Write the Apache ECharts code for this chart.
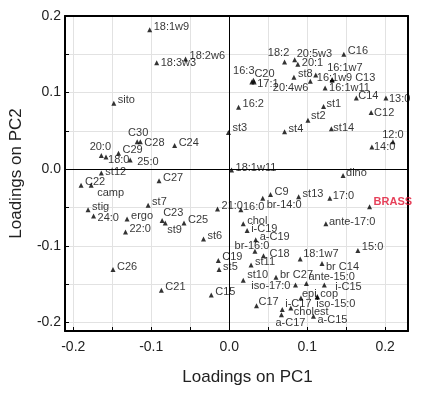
<!DOCTYPE html>
<html>
<head>
<meta charset="utf-8">
<script src="https://cdn.jsdelivr.net/npm/echarts/dist/echarts.min.js"></script>
<style>
  html, body { margin: 0; padding: 0; background: #fff; }
  #chart { width: 432px; height: 400px; }
</style>
</head>
<body>
<div id="chart"></div>
<script>
// variable names
var names = [
    '18:1w9', '18:2w6', '18:3w3', 'sito', 'C30', 'C28', 'C24', '20:0', '18:0', 'C29',
    '25:0', 'st12', 'C22', 'camp', 'C27', 'st7', 'stig', '24:0', 'ergo', 'C23',
    'st9', 'C25', '22:0', 'st6', 'C26', 'C19', 'st5', 'C21', 'C15', '21:0',
    '18:1w11', 'dino', 'C9', 'st13', '17:0', 'BRASS', '16:0', 'br-14:0', 'chol', 'i-C19',
    'a-C19', 'br-16:0', 'C18', 'st11', '18:1w7', 'br C14', '15:0', 'ante-17:0', 'st10', 'br C27',
    'iso-17:0', 'ante-15:0', 'i-C15', 'epi', 'cop', 'iso-15:0', 'C17', 'i-C17', 'cholest', 'a-C17',
    'a-C15', '18:2', '20:5w3', '20:1', 'C16', 'st8', '16:1w9', '16:1w7', 'C13', '20:4w6',
    '16:1w11', '16:3', 'C20', '17:1', '16:2', 'st3', 'st4', 'C14', '13:0', 'st1',
    'C12', 'st2', 'st14', '12:0', '14:0'
];
// loadings on PC1
var pc1 = [
    -0.102, -0.056, -0.093, -0.148, -0.118, -0.114, -0.070, -0.164, -0.158, -0.142,
    -0.127, -0.164, -0.190, -0.177, -0.090, -0.104, -0.181, -0.174, -0.131, -0.086,
    -0.082, -0.058, -0.133, -0.033, -0.149, -0.014, -0.013, -0.087, -0.023, -0.015,
    0.003, 0.146, 0.053, 0.089, 0.129, 0.180, 0.015, 0.043, 0.018, 0.023,
    0.034, 0.033, 0.044, 0.028, 0.091, 0.119, 0.165, 0.124, 0.018, 0.060,
    0.085, 0.099, 0.122, 0.092, 0.113, 0.113, 0.035, 0.068, 0.079, 0.067,
    0.108, 0.071, 0.084, 0.088, 0.147, 0.083, 0.111, 0.132, 0.132, 0.104,
    0.123, 0.029, 0.031, 0.032, 0.012, -0.001, 0.071, 0.163, 0.201, 0.121,
    0.182, 0.101, 0.131, 0.210, 0.183
];
// loadings on PC2
var pc2 = [
    0.182, 0.144, 0.139, 0.086, 0.036, 0.036, 0.031, 0.018, 0.016, 0.021,
    0.012, -0.005, -0.021, -0.021, -0.015, -0.047, -0.053, -0.061, -0.065, -0.067,
    -0.070, -0.070, -0.082, -0.091, -0.131, -0.119, -0.131, -0.158, -0.164, -0.052,
    -0.001, -0.008, -0.033, -0.036, -0.038, -0.049, -0.053, -0.038, -0.071, -0.080,
    -0.092, -0.107, -0.113, -0.125, -0.117, -0.123, -0.106, -0.071, -0.145, -0.141,
    -0.151, -0.149, -0.151, -0.168, -0.166, -0.167, -0.178, -0.183, -0.181, -0.190,
    -0.192, 0.140, 0.143, 0.137, 0.150, 0.120, 0.123, 0.117, 0.116, 0.115,
    0.106, 0.114, 0.116, 0.114, 0.081, 0.048, 0.049, 0.093, 0.093, 0.082,
    0.074, 0.064, 0.053, 0.036, 0.029
];
var highlight = 'BRASS';

// where each label sits relative to its marker: [dx, dy, align]
var labelAt = {
    'C30': [1, -9, 'center'], '20:0': [-1, -8, 'center'], '18:0': [2, 3], '25:0': [7, 2],
    'C28': [4, 1], '18:3w3': [4, 0], 'st12': [4, -1], 'camp': [6, 8], '24:0': [4, 2],
    'C23': [1, -8], 'st9': [2, 7], '16:0': [2, -3], 'br-14:0': [4, 7], '17:0': [3, -2],
    'BRASS': [4, -5], 'dino': [3, -2], 'i-C19': [4, -2], 'ante-17:0': [3, -2],
    'br-16:0': [-3, -5, 'center'], 'C18': [6, -2], '18:1w7': [3, -5], 'br C14': [4, 3],
    'st10': [4, -5], 'br C27': [4, -2], 'ante-15:0': [2, -6], 'iso-17:0': [-5, 1, 'right'],
    'i-C15': [11, 2], 'epi': [1, -4], 'cop': [3, -2], 'iso-15:0': [-1, 7], 'C17': [2, -4],
    'i-C17': [3, -6], 'cholest': [3, 4], 'a-C17': [-6, 8], 'a-C15': [4, 4],
    '18:2': [-6, -9, 'center'], '20:5w3': [2, -6], '20:1': [4, -1], '16:1w9': [1, 3],
    '16:1w7': [-5, -12], 'C13': [23, -2], '20:4w6': [-2, 7, 'right'], '16:1w11': [4, 0],
    '16:3': [-8, -11, 'center'], 'C20': [1, -6], '17:1': [3, 2], 'st3': [4, -4],
    '18:1w11': [4, -2], 'st1': [3, -2], 'st2': [3, -4], 'st14': [2, -1], 'C14': [2, -2],
    '13:0': [3, 1], 'C12': [3, 0], '12:0': [0, -7, 'center'], '14:0': [2, 0]
};

var SYM = 5;
var FONT = 'Liberation Sans, Arial, sans-serif';
var points = names.map(function (n, i) {
    var p = labelAt[n] || [4, -3];
    var lab = {
        show: true,
        formatter: n,
        position: [SYM / 2 + p[0], SYM / 2 + p[1]],
        align: p[2] || 'left',
        verticalAlign: 'middle',
        color: '#000',
        fontSize: 11,
        fontFamily: FONT
    };
    if (n === highlight) {
        lab.color = '#e0102f';
        lab.fontWeight = 'bold';
    }
    return {name: n, value: [pc1[i], pc2[i]], label: lab};
});

function tickLabel(v) {
    if (Math.abs(v * 10 - Math.round(v * 10)) > 1e-6) return '';
    return (Math.round(v * 10) / 10).toFixed(1);
}

var X_MIN = -0.2106, X_MAX = 0.2293, Y_MIN = -0.2111, Y_MAX = 0.2;
var frame = {show: true, onZero: false, lineStyle: {color: '#000', width: 2}};

var chart = echarts.init(document.getElementById('chart'));
var option = {
    animation: false,
    backgroundColor: '#fff',
    grid: {left: 64, right: 24, top: 16, bottom: 69},
    xAxis: [
        {
            type: 'value',
            min: X_MIN, max: X_MAX, splitNumber: 9,
            name: 'Loadings on PC1',
            nameLocation: 'middle', nameGap: 38,
            nameTextStyle: {fontSize: 17, color: '#222', fontFamily: FONT, padding: [0, 0, 0, 22]},
            axisLine: frame,
            axisTick: {show: true, inside: true, length: 4, lineStyle: {color: '#000'}},
            axisLabel: {fontSize: 14, color: '#222', margin: 9, fontFamily: FONT, formatter: tickLabel},
            splitLine: {show: true, lineStyle: {color: '#e2e2e2', width: 1}}
        },
        {
            type: 'value', position: 'top',
            min: X_MIN, max: X_MAX,
            axisLine: frame,
            axisTick: {show: false}, axisLabel: {show: false}, splitLine: {show: false}
        }
    ],
    yAxis: [
        {
            type: 'value',
            min: Y_MIN, max: Y_MAX, splitNumber: 8,
            name: 'Loadings on PC2',
            nameLocation: 'middle', nameGap: 40,
            nameTextStyle: {fontSize: 17, color: '#222', fontFamily: FONT},
            axisLine: frame,
            axisTick: {show: true, inside: true, length: 4, lineStyle: {color: '#000'}},
            axisLabel: {fontSize: 14, color: '#222', margin: 4, fontFamily: FONT, formatter: tickLabel},
            splitLine: {show: true, lineStyle: {color: '#e2e2e2', width: 1}}
        },
        {
            type: 'value', position: 'right',
            min: Y_MIN, max: Y_MAX,
            axisLine: frame,
            axisTick: {show: false}, axisLabel: {show: false}, splitLine: {show: false}
        }
    ],
    series: [
        {
            type: 'scatter',
            symbol: 'triangle',
            symbolSize: SYM,
            itemStyle: {color: '#000'},
            data: points,
            markLine: {
                silent: true,
                symbol: 'none',
                label: {show: false},
                lineStyle: {color: '#000', width: 1, type: 'solid'},
                data: [{xAxis: 0}, {yAxis: 0}]
            }
        }
    ]
};
chart.setOption(option);
</script>
</body>
</html>
